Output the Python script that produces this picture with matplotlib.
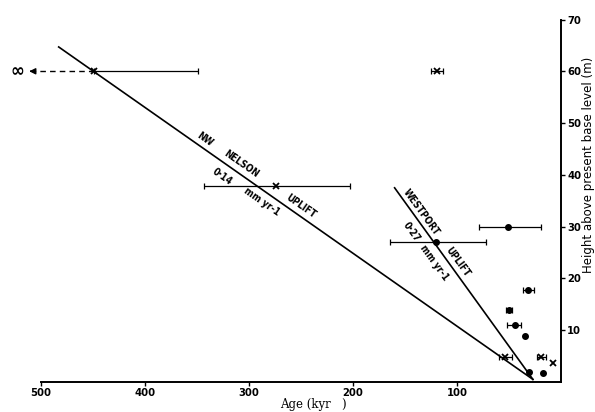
import matplotlib
matplotlib.use("Agg")
import matplotlib.pyplot as plt
import numpy as np

# Data (age in kyr, height in m)
ages = [449, 119, 274, 120.5, 51, 32, 50, 44, 35, 54, 19, 8, 31, 17]
heights = [60, 60, 37.8, 27.0, 29.9, 17.8, 13.9, 11.0, 8.9, 4.8, 4.8, 3.7, 1.9, 1.7]
err_young = [100, 6, 71, 48, 32, 6, 3, 6, 0, 7, 5, 0, 0, 0]
err_old = [0, 6, 69, 44, 28, 5, 3, 8, 0, 6, 4, 0, 0, 0]
markers = ['x', 'x', 'x', 'o', 'o', 'o', 'o', 'o', 'o', 'x', 'x', 'x', 'o', 'o']

# Uplift lines (age, height)
nelson_age = [483, 27]
nelson_h = [64.7, 0.5]
westport_age = [160, 27]
westport_h = [37.5, 0.5]

xticks = [500, 400, 300, 200, 100]
yticks = [10, 20, 30, 40, 50, 60, 70]

fig = plt.figure(figsize=(5.95, 4.12), dpi=100)
ax = fig.add_axes([41/595, 1-382/412, (561-41)/595, (382-19.5)/412])

ax.plot(nelson_age, nelson_h, color='black', lw=1.2)
ax.plot(westport_age, westport_h, color='black', lw=1.2)

for a, h, ey, eo, m in zip(ages, heights, err_young, err_old, markers):
    if ey or eo:
        ax.errorbar([a], [h], xerr=[[ey], [eo]], fmt='none', ecolor='black',
                    elinewidth=0.9, capsize=2.5, capthick=0.9)
    if m == 'o':
        ax.plot(a, h, 'o', color='black', ms=4)
    else:
        ax.plot(a, h, 'x', color='black', ms=4, mew=1.3)

# dashed arrow to infinity for oldest point
ax.plot([449, 508], [60, 60], color='black', lw=1.0, ls=(0, (4, 3)), clip_on=False)
ax.annotate('', xy=(514, 60), xytext=(506, 60),
            arrowprops=dict(arrowstyle='-|>', color='black', lw=1.0,
                            mutation_scale=9), annotation_clip=False)
ax.text(523, 60, '∞', ha='center', va='center', fontsize=12, fontweight='bold',
        clip_on=False)

tk = dict(fontsize=7, fontweight='bold', color='black', ha='center', va='center',
          family='DejaVu Sans', fontstretch='condensed', rotation_mode='anchor')
a1 = -34.9
ax.text(342, 46.9, 'NW', rotation=a1, **tk)
ax.text(307, 42.2, 'NELSON', rotation=a1, **tk)
ax.text(325.7, 39.6, '0·14', rotation=a1, **tk)
ax.text(287.8, 34.8, 'mm yr-1', rotation=a1, **tk)
ax.text(250.3, 34.0, 'UPLIFT', rotation=a1, **tk)

a2 = -54.0
ax.text(134.6, 32.8, 'WESTPORT', rotation=a2, **tk)
ax.text(143.5, 29.0, '0·27', rotation=a2, **tk)
ax.text(122.0, 23.0, 'mm yr-1', rotation=a2, **tk)
ax.text(99.7, 23.2, 'UPLIFT', rotation=a2, **tk)

ax.set_xlim(500, 0)
ax.set_ylim(0, 70)
ax.set_xticks(xticks)
ax.set_yticks(yticks)
ax.yaxis.tick_right()
ax.yaxis.set_label_position('right')
for s in ['top', 'left']:
    ax.spines[s].set_visible(False)
ax.spines['bottom'].set_linewidth(1.4)
ax.spines['right'].set_linewidth(1.4)
ax.tick_params(axis='both', labelsize=8, length=3, width=1, pad=1.5)
for lab in ax.get_xticklabels() + ax.get_yticklabels():
    lab.set_fontstretch('condensed')
    lab.set_fontweight('bold')
ax.set_xlabel('Age (kyr   )', fontsize=8.5, family='DejaVu Serif', va='center')
ax.xaxis.set_label_coords(0.523, -0.063)
ax.set_ylabel('Height above present base level (m)', fontsize=8.5, va='center',
              rotation=90)
ax.yaxis.set_label_coords(1.052, 0.60)

fig.savefig('out.png', dpi=100)
